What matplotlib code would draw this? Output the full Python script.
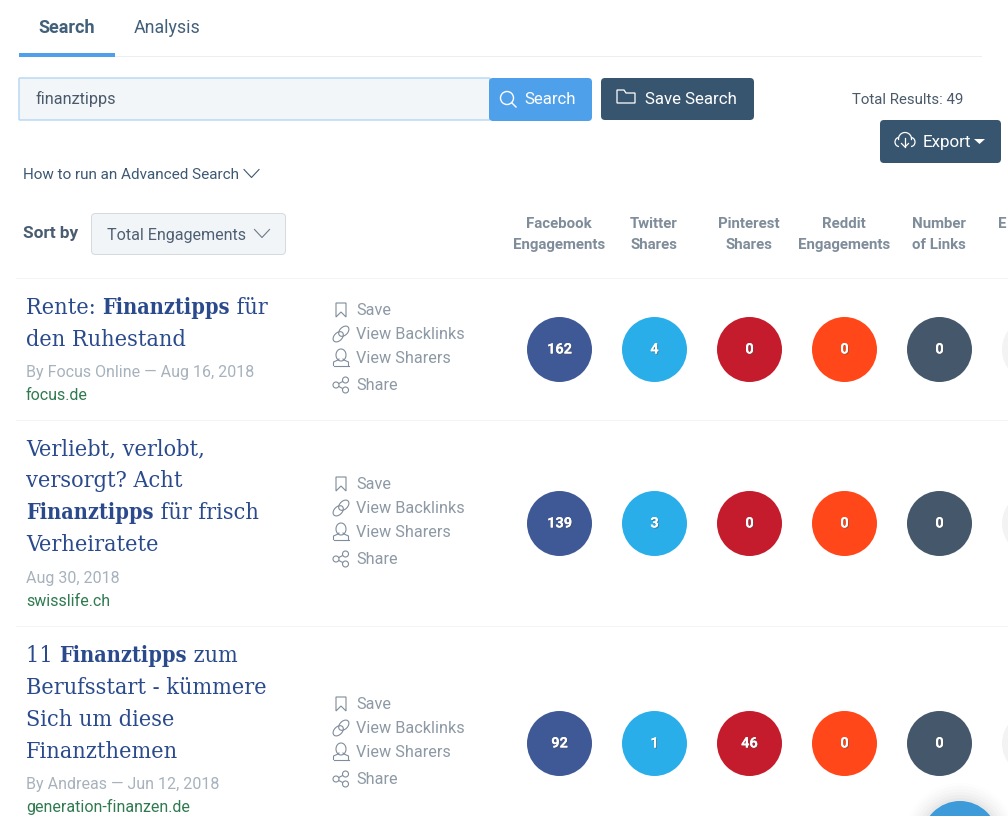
#!/usr/bin/env python3
"""Search results page: social engagement counts per article, drawn in pixel coords."""
import matplotlib
matplotlib.use("Agg")
import matplotlib.pyplot as plt
import matplotlib.patheffects as pe
from matplotlib.patches import Arc, Circle, FancyBboxPatch, Polygon, Rectangle

# data
TITLES = [
    [[("Rente: ", False), ("Finanztipps", True), (" für", False)],
     [("den Ruhestand", False)]],
    [[("Verliebt, verlobt,", False)],
     [("versorgt? Acht", False)],
     [("Finanztipps", True), (" für frisch", False)],
     [("Verheiratete", False)]],
    [[("11 ", False), ("Finanztipps", True), (" zum", False)],
     [("Berufsstart - kümmere", False)],
     [("Sich um diese", False)],
     [("Finanzthemen", False)]],
]
BYLINES = ["By Focus Online — Aug 16, 2018", "Aug 30, 2018", "By Andreas — Jun 12, 2018"]
DOMAINS = ["focus.de", "swisslife.ch", "generation-finanzen.de"]
COLUMN_HEADERS = [("Facebook", "Engagements"), ("Twitter", "Shares"), ("Pinterest", "Shares"),
                  ("Reddit", "Engagements"), ("Number", "of Links")]
FACEBOOK = [162, 139, 92]
TWITTER = [4, 3, 1]
PINTEREST = [0, 0, 46]
REDDIT = [0, 0, 0]
LINKS = [0, 0, 0]
ACTIONS = ["Save", "View Backlinks", "View Sharers", "Share"]

# layout, in reference pixels
COLUMN_X = [559.5, 654.5, 749.5, 844.5, 939.5]
COLUMN_COLORS = ["#3f5997", "#2aaeea", "#c41c2c", "#ff471a", "#44576b"]
ROW_Y = [349.5, 523.5, 743.5]
TITLE_Y = [[314, 346], [455, 487, 519, 551], [662, 694, 726, 758]]
BYLINE_Y = [377, 583, 789]
DOMAIN_Y = [400, 606, 812]
ACTION_OFFSETS = [-39, -15, 9, 36]
RADIUS = 32.5

NAVY = "#38556f"
BLUE = "#4fa0ea"
TITLE_BLUE = "#2a4a8c"

plt.rcParams["font.family"] = ["Roboto", "DejaVu Sans"]

fig = plt.figure(figsize=(10.08, 8.16), dpi=100)
ax = fig.add_axes([0, 0, 1, 1])
ax.set_xlim(0, 1008)
ax.set_ylim(816, 0)
ax.axis("off")


def px(size):
    # css pixels to points at dpi 100
    return size * 0.72


def label(x, y, s, size=16, color="#4a5a6a", weight="normal", ha="left", va="center", **kw):
    return ax.text(x, y, s, fontsize=px(size), color=color, fontweight=weight, ha=ha, va=va, **kw)


def box(x0, y0, x1, y1, fc, ec="none", lw=0, r=4):
    ax.add_patch(FancyBboxPatch((x0 + r, y0 + r), x1 - x0 - 2 * r, y1 - y0 - 2 * r,
                                boxstyle=f"round,pad={r},rounding_size={r}",
                                fc=fc, ec=ec, lw=lw, zorder=2))


def chevron(x, y, w, h, color, lw=0.8):
    ax.plot([x - w, x, x + w], [y - h, y + h, y - h], color=color, lw=lw, zorder=4)


def spans(x, y, parts):
    # mixed weight line: measure each part, then move along
    renderer = fig.canvas.get_renderer()
    for s, bold in parts:
        t = ax.text(x, y, s.replace(" ", "\u00a0"), fontsize=px(21.6 if bold else 23.2), color=TITLE_BLUE,
                    family="DejaVu Serif", stretch="condensed",
                    fontweight="bold" if bold else "normal", ha="left", va="baseline")
        x += t.get_window_extent(renderer).width


def icon_save(x, y, c):
    ax.add_patch(Polygon([(x - 5, y - 7), (x + 5, y - 7), (x + 5, y + 7), (x, y + 2), (x - 5, y + 7)],
                         closed=True, fc="none", ec=c, lw=0.8, zorder=4))


def icon_link(x, y, c):
    for dx, dy in ((-2.8, 2.8), (2.8, -2.8)):
        ax.add_patch(Arc((x + dx, y + dy), 12, 8, angle=-45, theta1=0, theta2=360, color=c, lw=0.8, zorder=4))


def icon_user(x, y, c):
    ax.add_patch(Arc((x, y - 3), 10, 12, theta1=0, theta2=360, color=c, lw=0.8, zorder=4))
    ax.plot([x - 7.5, x - 7.5, x - 3, x - 2], [y + 7.5, y + 4, y + 2, y + 1], color=c, lw=0.8, zorder=4)
    ax.plot([x + 7.5, x + 7.5, x + 3, x + 2], [y + 7.5, y + 4, y + 2, y + 1], color=c, lw=0.8, zorder=4)
    ax.plot([x - 7.5, x + 7.5], [y + 7.5, y + 7.5], color=c, lw=0.8, zorder=4)


def icon_share(x, y, c):
    pts = [(x - 5, y), (x + 4.5, y - 5), (x + 4.5, y + 5)]
    ax.plot([pts[1][0], pts[0][0], pts[2][0]], [pts[1][1], pts[0][1], pts[2][1]], color=c, lw=0.8, zorder=4)
    for p in pts:
        ax.add_patch(Circle(p, 3, fc="white", ec=c, lw=0.8, zorder=5))


def icon_search(x, y, c):
    ax.add_patch(Circle((x - 1, y - 1), 6.5, fc="none", ec=c, lw=1.0, zorder=4))
    ax.plot([x + 3.6, x + 8], [y + 3.6, y + 8], color=c, lw=1.0, zorder=4)


def icon_folder(x, y, c):
    ax.add_patch(Polygon([(x - 9, y - 7), (x - 2, y - 7), (x, y - 4), (x + 9, y - 4), (x + 9, y + 6), (x - 9, y + 6)],
                         closed=True, fc="none", ec=c, lw=0.9, zorder=4))


def icon_cloud(x, y, c):
    ax.add_patch(Arc((x, y - 1), 13, 13, theta1=170, theta2=370, color=c, lw=0.9, zorder=4))
    ax.add_patch(Arc((x - 6, y + 2), 8, 9, theta1=90, theta2=270, color=c, lw=0.9, zorder=4))
    ax.add_patch(Arc((x + 6, y + 2), 8, 9, theta1=270, theta2=90, color=c, lw=0.9, zorder=4))
    ax.plot([x, x], [y - 2, y + 7], color=c, lw=0.9, zorder=4)
    ax.plot([x - 3.5, x, x + 3.5], [y + 3.5, y + 7, y + 3.5], color=c, lw=0.9, zorder=4)


# tabs
ax.add_patch(Rectangle((19, 56), 963, 1, fc="#eceff2", ec="none"))
ax.add_patch(Rectangle((19, 53), 96, 4, fc=BLUE, ec="none"))
label(67, 28, "Search", size=18, color="#43607a", weight="bold", ha="center")
label(134, 28, "Analysis", size=17.7, color="#43607a")

# search bar
box(19, 78, 490, 120, "#f2f6f9", "#b4d6f2", 1.0, r=1)
label(35.5, 99, "finanztipps", size=16.2, color="#4a5a6a")
box(489, 78, 592, 121, BLUE)
icon_search(508, 99, "white")
label(524, 100, "Search", size=16.7, color="white")
box(601, 78, 754, 120, NAVY)
icon_folder(626, 97, "white")
label(645, 99, "Save Search", size=16.9, color="white")
label(963, 100, "Total Results: 49", size=15, color="#4a5a6a", ha="right")
box(880, 120, 1001, 163, NAVY)
icon_cloud(905, 140, "white")
label(923, 142, "Export", size=17, color="white")
ax.add_patch(Polygon([(974, 139), (985, 139), (979.5, 144)], closed=True, fc="white", ec="none", zorder=4))

# advanced search and sort
label(23, 175, "How to run an Advanced Search", size=15.2, color="#3d5873")
chevron(251.5, 173.5, 7.5, 4, "#3d5873")
label(23, 233.5, "Sort by", size=17.2, color="#4a5d70", weight="bold")
box(91.5, 213.5, 285.5, 254.5, "#f2f5f8", "#d5d9dd", 0.7)
label(107, 235.5, "Total Engagements", size=16.1, color="#4e6072")
chevron(262, 233.5, 7.5, 4, "#6b7a88")

# column headers
for x, (top, bottom) in zip(COLUMN_X, COLUMN_HEADERS):
    label(x - 0.5, 224, top, size=15, color="#7f8c9a", weight="bold", ha="center")
    label(x - 0.5, 245, bottom, size=15, color="#7f8c9a", weight="bold", ha="center")
label(998, 224, "E", size=15, color="#7f8c9a", weight="bold")

# row separators
for y in (278, 420, 626):
    ax.add_patch(Rectangle((16, y), 992, 1, fc="#f3f4f5", ec="none"))

# rows
COUNTS = [FACEBOOK, TWITTER, PINTEREST, REDDIT, LINKS]
ICONS = [icon_save, icon_link, icon_user, icon_share]
for i, cy in enumerate(ROW_Y):
    for parts, y in zip(TITLES[i], TITLE_Y[i]):
        spans(26, y, parts)
    label(26, BYLINE_Y[i], BYLINES[i], size=16, color="#a7b2bd", va="baseline")
    label(26, DOMAIN_Y[i], DOMAINS[i], size=16, color="#2f7a4f", va="baseline")
    for name, off, icon in zip(ACTIONS, ACTION_OFFSETS, ICONS):
        icon(341, cy + off - 0.5, "#7f8c9a")
        label(356.5, cy + off, name, size=16.2, color="#8d99a5")
    for x, color, values in zip(COLUMN_X, COLUMN_COLORS, COUNTS):
        ax.add_patch(Circle((x, cy), RADIUS, fc=color, ec="none", zorder=3))
        t = label(x, cy, str(values[i]), size=14.5, color="white", weight="bold", ha="center", zorder=5)
        t.set_path_effects([pe.withSimplePatchShadow(offset=(0.7, -0.7), alpha=0.5), pe.Normal()])
    # the column cut off at the right edge
    ax.add_patch(Circle((1034.5, cy), RADIUS, fc="#f3f3f3", ec="none", zorder=3))

# chat bubble at the bottom right
for r, a in ((56, 0.008), (53, 0.01), (50, 0.012), (47, 0.015), (44, 0.02), (41, 0.025)):
    ax.add_patch(Circle((960, 839), r, fc="black", ec="none", alpha=a, zorder=5))
ax.add_patch(Circle((960, 839), 38, fc="#3d9bd9", ec="none", zorder=6))

fig.savefig("out.png", dpi=100)
